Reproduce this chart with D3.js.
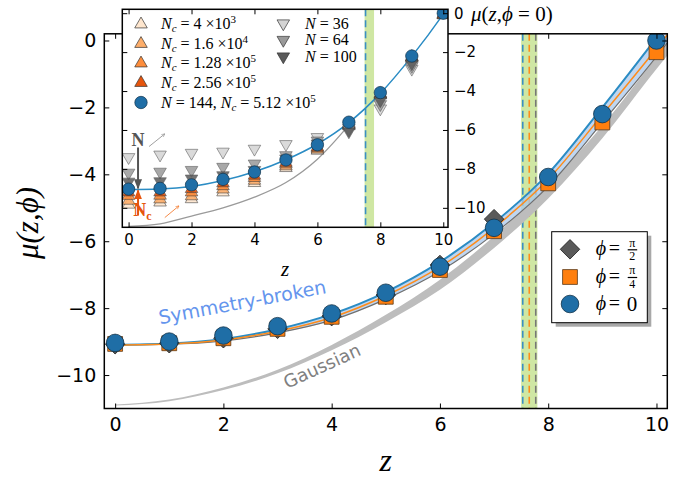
<!DOCTYPE html>
<meta charset="utf-8">
<title>mu(z, phi)</title>
<style>
body { margin: 0; background: #fff; }
.tick text { font-family: "DejaVu Sans"; fill: #000; }
.math { font-family: "Liberation Serif", "DejaVu Serif", serif; font-style: italic; }
</style>
<body>
<svg width="697" height="478"></svg>
<script src="https://d3js.org/d3.v7.min.js"></script>
<script>
// ---- data ----
var zs = [0, 1, 2, 3, 4, 5, 6, 7, 8, 9, 10];
var muPhi0 = [-9.04, -9.0, -8.82, -8.54, -8.16, -7.54, -6.76, -5.6, -4.08, -2.2, 0.0];
var muPhi4 = [-9.07, -9.05, -8.9, -8.62, -8.26, -7.66, -6.86, -5.7, -4.27, -2.45, -0.35];
var muPhi2 = [-9.08, -9.05, -8.9, -8.62, -8.24, -7.61, -6.71, -5.34];

var fitZ = [0, 1, 2, 3, 4, 5, 6, 7, 8, 9, 10, 10.2];
var fitPhi0 = [-9.1, -9.06, -8.92, -8.63, -8.18, -7.52, -6.62, -5.45, -3.98, -2.0, 0.08, 0.5];
var fitPhi4 = [-9.1, -9.07, -8.95, -8.69, -8.28, -7.63, -6.77, -5.6, -4.15, -2.22, -0.24, 0.17];
var fitPhi2 = [-9.1, -9.08, -8.98, -8.74, -8.36, -7.73, -6.9, -5.78, -4.36, -2.45, -0.48, -0.07];

var gaussUpper = [-10.88, -10.73, -10.37, -9.84, -9.1, -8.2, -7.15, -5.85, -4.3, -2.55, -0.5, -0.1];
var gaussLower = [-10.91, -10.78, -10.45, -9.95, -9.26, -8.42, -7.45, -6.2, -4.72, -2.92, -0.85, -0.45];

var critBand = [7.5, 7.8];
var critZ = [7.53, 7.65, 7.77];
var critColors = ["#3a8fc4", "#ff8c1a", "#777777"];

// inset
var insetFitZ = [0, 1, 2, 3, 4, 5, 6, 7, 8, 9, 10, 10.15];
var insetFit = [-9.06, -9.03, -8.9, -8.6, -8.15, -7.53, -6.72, -5.62, -4.12, -2.22, -0.05, 0.3];
var insetGaussZ = [0, 1, 2, 3, 4, 5, 6, 7];
var insetGauss = [-10.95, -10.82, -10.42, -10.0, -9.45, -8.7, -7.5, -5.75];

var zN = [0, 1, 2, 3, 4, 5, 6, 7, 8, 9];
var n36 = [-7.4, -7.27, -7.18, -7.12, -6.97, -6.73, -6.37, -5.9, -4.9, -2.86];
var n64 = [-8.2, -8.15, -8.06, -7.9, -7.73, -7.3, -6.55, -5.98, -4.68, -2.72];
var n100 = [-8.66, -8.64, -8.5, -8.33, -8.06, -7.47, -6.7, -6.08, -4.48, -2.58];

var nc4e3 = [-9.83, -9.72, -9.55, -9.2, -8.72, -7.95, -7.06, -5.8, -4.22, -2.3, -0.1];
var nc16e3 = [-9.63, -9.56, -9.4, -9.05, -8.6, -7.86, -7.0, -5.77, -4.19, -2.28, -0.08];
var nc128e3 = [-9.38, -9.37, -9.2, -8.88, -8.46, -7.76, -6.93, -5.73, -4.16, -2.26, -0.07];
var nc256e3 = [-9.2, -9.2, -9.03, -8.73, -8.34, -7.68, -6.88, -5.7, -4.15, -2.25, -0.06];

var ncSeries = [nc4e3, nc16e3, nc128e3, nc256e3];
var ncColors = ["#fee6ce", "#fdae6b", "#fd8d3c", "#e6550d"];
var ncMant = ["4 ×10", "1.6 ×10", "1.28 ×10", "2.56 ×10"];
var ncExp = ["3", "4", "5", "5"];
var nSeries = [n36, n64, n100];
var nColors = ["#d4d4d4", "#9a9a9a", "#5a5a5a"];
var nLabels = ["36", "64", "100"];

var xTicks = [0, 2, 4, 6, 8, 10];
var yTicks = [0, -2, -4, -6, -8, -10];

var blue = "#1f6ea6", orange = "#ff7f0e", dgray = "#5a5a5a";
var PHI = "\u03d5";

// ---- scales ----
var svg = d3.select("svg");
var x = d3.scaleLinear().domain([-0.2, 10.2]).range([104.3, 667.3]);
var y = d3.scaleLinear().domain([-11, 0.2]).range([408.5, 33.8]);
var xi = d3.scaleLinear().domain([-0.2, 10.15]).range([122.3, 448]);
var yi = d3.scaleLinear().domain([-11, 0.2]).range([227.3, 9.3]);

var defs = svg.append("defs");
defs.append("clipPath").attr("id", "clipMain").append("rect")
  .attr("x", x.range()[0]).attr("y", y.range()[1])
  .attr("width", x.range()[1] - x.range()[0]).attr("height", y.range()[0] - y.range()[1]);
defs.append("clipPath").attr("id", "clipInset").append("rect")
  .attr("x", xi.range()[0]).attr("y", yi.range()[1])
  .attr("width", xi.range()[1] - xi.range()[0]).attr("height", yi.range()[0] - yi.range()[1]);

function arrowHead(id, color, open) {
  var m = defs.append("marker").attr("id", id)
    .attr("viewBox", "0 0 10 10").attr("refX", 9).attr("refY", 5)
    .attr("markerWidth", 5).attr("markerHeight", 5).attr("orient", "auto");
  if (open) m.append("path").attr("d", "M1,1L9,5L1,9").attr("fill", "none").attr("stroke", color).attr("stroke-width", 1.3);
  else m.append("path").attr("d", "M0,1L10,5L0,9Z").attr("fill", color);
}
arrowHead("ahGray", "#555", false);
arrowHead("ahOrange", "#e6550d", false);
arrowHead("ahGrayOpen", "#888", true);
arrowHead("ahOrangeOpen", "#f26d1a", true);

function pts(xs, ys) { return ys.map(function(v, i) { return [xs[i], v]; }); }

// ---- main plot ----
var main = svg.append("g").attr("clip-path", "url(#clipMain)");

main.append("rect")
  .attr("x", x(critBand[0])).attr("width", x(critBand[1]) - x(critBand[0]))
  .attr("y", y.range()[1]).attr("height", y.range()[0] - y.range()[1])
  .attr("fill", "#cfe7a3");

critZ.forEach(function(c, i) {
  main.append("line")
    .attr("x1", x(c)).attr("x2", x(c)).attr("y1", y.range()[1]).attr("y2", y.range()[0])
    .attr("stroke", critColors[i]).attr("stroke-width", 1.6).attr("stroke-dasharray", "7,4");
});

var line = d3.line().curve(d3.curveMonotoneX)
  .x(function(d) { return x(d[0]); }).y(function(d) { return y(d[1]); });
var band = d3.area().curve(d3.curveMonotoneX)
  .x(function(d) { return x(d[0]); })
  .y0(function(d) { return y(d[1]); }).y1(function(d) { return y(d[2]); });

main.append("path")
  .datum(fitZ.map(function(z, i) { return [z, gaussLower[i], gaussUpper[i]]; }))
  .attr("d", band).attr("fill", "#bdbdbd");
main.append("path")
  .datum(fitZ.map(function(z, i) { return [z, fitPhi2[i], fitPhi0[i]]; }))
  .attr("d", band).attr("fill", "#a9c8ec").attr("opacity", 0.75);

main.append("path").datum(pts(fitZ, fitPhi2)).attr("d", line)
  .attr("fill", "none").attr("stroke", "#707070").attr("stroke-width", 1.2);
main.append("path").datum(pts(fitZ, fitPhi0)).attr("d", line)
  .attr("fill", "none").attr("stroke", "#2b8cc4").attr("stroke-width", 2);
main.append("path").datum(pts(fitZ, fitPhi4)).attr("d", line)
  .attr("fill", "none").attr("stroke", "#ff8c1a").attr("stroke-width", 1.5);

var diamond = d3.symbol(d3.symbolSquare).size(190)();
var square = d3.symbol(d3.symbolSquare).size(220)();

main.selectAll(".dia").data(pts(zs, muPhi2)).enter().append("path")
  .attr("d", diamond)
  .attr("transform", function(d) { return "translate(" + x(d[0]) + "," + y(d[1]) + ") rotate(45)"; })
  .attr("fill", dgray).attr("stroke", "#222").attr("stroke-width", 0.8);
main.selectAll(".sq").data(pts(zs, muPhi4)).enter().append("path")
  .attr("d", square)
  .attr("transform", function(d) { return "translate(" + x(d[0]) + "," + y(d[1]) + ")"; })
  .attr("fill", orange).attr("stroke", "#5a3a1a").attr("stroke-width", 0.8);
main.selectAll(".ci").data(pts(zs, muPhi0)).enter().append("circle")
  .attr("cx", function(d) { return x(d[0]); }).attr("cy", function(d) { return y(d[1]); })
  .attr("r", 8.8).attr("fill", blue).attr("stroke", "#10324a").attr("stroke-width", 0.8);

// annotations
svg.append("text")
  .attr("transform", "translate(" + x(2.35) + "," + y(-7.82) + ") rotate(-10.6)")
  .attr("text-anchor", "middle").attr("dy", "0.35em")
  .style("font-family", "DejaVu Sans").style("font-size", "19px").attr("fill", "#6495ed")
  .text("Symmetry-broken");
svg.append("text")
  .attr("transform", "translate(" + x(3.82) + "," + y(-9.73) + ") rotate(-24.5)")
  .attr("text-anchor", "middle").attr("dy", "0.35em")
  .style("font-family", "DejaVu Sans").style("font-size", "18px").attr("fill", "#808080")
  .text("Gaussian");

// main axes
function styleAxis(g, size) {
  g.select(".domain").remove();
  g.selectAll(".tick line").attr("stroke", "#000").attr("stroke-width", 1);
  g.selectAll(".tick text").style("font-size", size + "px");
}
svg.append("g").attr("transform", "translate(0," + y.range()[0] + ")")
  .call(d3.axisBottom(x).tickValues(xTicks).tickSizeInner(-5).tickSizeOuter(0).tickPadding(9))
  .call(styleAxis, 19);
svg.append("g").attr("transform", "translate(0," + y.range()[1] + ")")
  .call(d3.axisTop(x).tickValues(xTicks).tickSizeInner(-5).tickSizeOuter(0).tickFormat(""))
  .call(styleAxis, 19);
svg.append("g").attr("transform", "translate(" + x.range()[0] + ",0)")
  .call(d3.axisLeft(y).tickValues(yTicks).tickSizeInner(-5).tickSizeOuter(0).tickPadding(8))
  .call(styleAxis, 19);
svg.append("g").attr("transform", "translate(" + x.range()[1] + ",0)")
  .call(d3.axisRight(y).tickValues(yTicks).tickSizeInner(-5).tickSizeOuter(0).tickFormat(""))
  .call(styleAxis, 19);
svg.append("rect")
  .attr("x", x.range()[0]).attr("y", y.range()[1])
  .attr("width", x.range()[1] - x.range()[0]).attr("height", y.range()[0] - y.range()[1])
  .attr("fill", "none").attr("stroke", "#000").attr("stroke-width", 1.5);

svg.append("text").attr("class", "math")
  .attr("x", (x.range()[0] + x.range()[1]) / 2).attr("y", 471)
  .attr("text-anchor", "middle").style("font-size", "32px").text("z");
svg.append("text").attr("class", "math")
  .attr("transform", "translate(38,223) rotate(-90)")
  .attr("text-anchor", "middle").style("font-size", "31px").text("μ(z," + PHI + ")");

// main legend
var lg = svg.append("g").attr("transform", "translate(551.7,231.7)");
lg.append("rect").attr("x", 4).attr("y", 4).attr("width", 95.6).attr("height", 91).attr("fill", "#a8a8a8");
lg.append("rect").attr("width", 95.6).attr("height", 91).attr("fill", "#fff").attr("stroke", "#000").attr("stroke-width", 1);
var rows = [17.6, 45.3, 72.3];
lg.append("path").attr("d", diamond).attr("transform", "translate(18.3," + rows[0] + ") rotate(45)")
  .attr("fill", dgray).attr("stroke", "#222").attr("stroke-width", 0.8);
lg.append("path").attr("d", square).attr("transform", "translate(18.3," + rows[1] + ")")
  .attr("fill", orange).attr("stroke", "#5a3a1a").attr("stroke-width", 0.8);
lg.append("circle").attr("cx", 18.3).attr("cy", rows[2]).attr("r", 8.8)
  .attr("fill", blue).attr("stroke", "#10324a").attr("stroke-width", 0.8);
var fracDen = ["2", "4"];
rows.forEach(function(ry, i) {
  lg.append("text").attr("class", "math").attr("x", 44).attr("y", ry + 6)
    .style("font-size", "20px").text(PHI);
  lg.append("text").attr("x", 57).attr("y", ry + 6)
    .style("font-family", "Liberation Serif").style("font-size", "20px").text("=");
  if (i < 2) {
    lg.append("text").attr("x", 80.5).attr("y", ry - 2.5).attr("text-anchor", "middle")
      .style("font-family", "Liberation Serif").style("font-size", "12px").text("π");
    lg.append("line").attr("x1", 76).attr("x2", 85.5).attr("y1", ry + 0.5).attr("y2", ry + 0.5)
      .attr("stroke", "#000").attr("stroke-width", 1.2);
    lg.append("text").attr("x", 80.5).attr("y", ry + 11).attr("text-anchor", "middle")
      .style("font-family", "Liberation Serif").style("font-size", "12px").text(fracDen[i]);
  } else {
    lg.append("text").attr("x", 75).attr("y", ry + 7)
      .style("font-family", "Liberation Serif").style("font-size", "21px").text("0");
  }
});

// ---- inset ----
svg.append("rect")
  .attr("x", xi.range()[0]).attr("y", yi.range()[1])
  .attr("width", xi.range()[1] - xi.range()[0]).attr("height", yi.range()[0] - yi.range()[1])
  .attr("fill", "#fff");
var ins = svg.append("g").attr("clip-path", "url(#clipInset)");

ins.append("rect")
  .attr("x", xi(critBand[0])).attr("width", xi(critBand[1]) - xi(critBand[0]))
  .attr("y", yi.range()[1]).attr("height", yi.range()[0] - yi.range()[1])
  .attr("fill", "#cfe7a3");
ins.append("line")
  .attr("x1", xi(critZ[0])).attr("x2", xi(critZ[0])).attr("y1", yi.range()[1]).attr("y2", yi.range()[0])
  .attr("stroke", critColors[0]).attr("stroke-width", 1.6).attr("stroke-dasharray", "7,4");

var lineI = d3.line().curve(d3.curveMonotoneX)
  .x(function(d) { return xi(d[0]); }).y(function(d) { return yi(d[1]); });
ins.append("path").datum(pts(insetGaussZ, insetGauss)).attr("d", lineI)
  .attr("fill", "none").attr("stroke", "#9a9a9a").attr("stroke-width", 1.3);
ins.append("path").datum(pts(insetFitZ, insetFit)).attr("d", lineI)
  .attr("fill", "none").attr("stroke", "#2b8cc4").attr("stroke-width", 1.5);

var tri = d3.symbol(d3.symbolTriangle).size(68)();
ncSeries.forEach(function(s, k) {
  ins.selectAll(".nc" + k).data(pts(zs, s)).enter().append("path")
    .attr("d", tri)
    .attr("transform", function(d) { return "translate(" + xi(d[0]) + "," + yi(d[1]) + ")"; })
    .attr("fill", ncColors[k]).attr("stroke", "#333").attr("stroke-width", 0.6).attr("opacity", 0.9);
});
nSeries.forEach(function(s, k) {
  ins.selectAll(".n" + k).data(pts(zN, s)).enter().append("path")
    .attr("d", tri)
    .attr("transform", function(d) { return "translate(" + xi(d[0]) + "," + yi(d[1]) + ") rotate(180)"; })
    .attr("fill", nColors[k]).attr("stroke", "#444").attr("stroke-width", 0.6).attr("opacity", 0.85);
});
ins.selectAll(".ci").data(pts(zs, muPhi0)).enter().append("circle")
  .attr("cx", function(d) { return xi(d[0]); }).attr("cy", function(d) { return yi(d[1]); })
  .attr("r", 6.2).attr("fill", blue).attr("stroke", "#10324a").attr("stroke-width", 0.7);

// arrows
svg.append("line").attr("x1", xi(0.3)).attr("x2", xi(0.3)).attr("y1", yi(-6.9)).attr("y2", yi(-9.0))
  .attr("stroke", "#555").attr("stroke-width", 2).attr("marker-end", "url(#ahGray)");
svg.append("line").attr("x1", xi(0.3)).attr("x2", xi(0.3)).attr("y1", yi(-10.4)).attr("y2", yi(-9.1))
  .attr("stroke", "#e6550d").attr("stroke-width", 2).attr("marker-end", "url(#ahOrange)");
svg.append("line").attr("x1", xi(0.65)).attr("x2", xi(1.15)).attr("y1", yi(-6.85)).attr("y2", yi(-6.2))
  .attr("stroke", "#888").attr("stroke-width", 0.8).attr("marker-end", "url(#ahGrayOpen)");
svg.append("line").attr("x1", xi(1.15)).attr("x2", xi(1.6)).attr("y1", yi(-10.5)).attr("y2", yi(-9.9))
  .attr("stroke", "#f26d1a").attr("stroke-width", 0.8).attr("marker-end", "url(#ahOrangeOpen)");
svg.append("text").attr("x", xi(0.3)).attr("y", yi(-6.5) + 6).attr("text-anchor", "middle")
  .style("font-family", "Liberation Serif").style("font-size", "18px").style("font-weight", "bold")
  .attr("fill", "#555").text("N");
var ncT = svg.append("text").attr("x", xi(0.15)).attr("y", yi(-10.1) + 6)
  .style("font-family", "Liberation Serif").style("font-size", "18px").style("font-weight", "bold")
  .attr("fill", "#e6550d");
ncT.append("tspan").text("N");
ncT.append("tspan").attr("dy", 4).style("font-size", "12px").text("c");

// inset axes
svg.append("g").attr("transform", "translate(0," + yi.range()[0] + ")")
  .call(d3.axisBottom(xi).tickValues(xTicks).tickSizeInner(-5).tickSizeOuter(0).tickPadding(7))
  .call(styleAxis, 15);
svg.append("g").attr("transform", "translate(0," + yi.range()[1] + ")")
  .call(d3.axisTop(xi).tickValues(xTicks).tickSizeInner(-5).tickSizeOuter(0).tickFormat(""))
  .call(styleAxis, 15);
svg.append("g").attr("transform", "translate(" + xi.range()[0] + ",0)")
  .call(d3.axisLeft(yi).tickValues(yTicks).tickSizeInner(-5).tickSizeOuter(0).tickFormat(""))
  .call(styleAxis, 15);
svg.append("g").attr("transform", "translate(" + xi.range()[1] + ",0)")
  .call(d3.axisRight(yi).tickValues(yTicks).tickSizeInner(-5).tickSizeOuter(0).tickPadding(6))
  .call(styleAxis, 15);
svg.append("rect")
  .attr("x", xi.range()[0]).attr("y", yi.range()[1])
  .attr("width", xi.range()[1] - xi.range()[0]).attr("height", yi.range()[0] - yi.range()[1])
  .attr("fill", "none").attr("stroke", "#000").attr("stroke-width", 1.5);

svg.append("text").attr("class", "math")
  .attr("x", (xi.range()[0] + xi.range()[1]) / 2).attr("y", 276)
  .attr("text-anchor", "middle").style("font-size", "21px").text("z");
var yl = svg.append("text").attr("x", 471).attr("y", 21).style("font-size", "21px")
  .style("font-family", "Liberation Serif");
yl.append("tspan").style("font-style", "italic").text("μ");
yl.append("tspan").text("(");
yl.append("tspan").style("font-style", "italic").text("z");
yl.append("tspan").text(",");
yl.append("tspan").style("font-style", "italic").text(PHI);
yl.append("tspan").text(" = 0)");

// inset legend
var ilRows = [24.3, 43.8, 63.3, 82.8];
ncColors.forEach(function(c, k) {
  svg.append("path").attr("d", tri).attr("transform", "translate(141," + ilRows[k] + ")")
    .attr("fill", c).attr("stroke", "#333").attr("stroke-width", 0.7);
  var t = svg.append("text").attr("x", 161).attr("y", ilRows[k] + 5)
    .style("font-family", "Liberation Serif").style("font-size", "16px");
  t.append("tspan").style("font-style", "italic").text("N");
  t.append("tspan").attr("dy", 3).style("font-size", "11px").style("font-style", "italic").text("c");
  t.append("tspan").attr("dy", -3).text(" = " + ncMant[k]);
  t.append("tspan").attr("dy", -6).style("font-size", "11px").text(ncExp[k]);
});
svg.append("circle").attr("cx", 141).attr("cy", 102.5).attr("r", 6.2)
  .attr("fill", blue).attr("stroke", "#10324a").attr("stroke-width", 0.7);
var t144 = svg.append("text").attr("x", 161).attr("y", 107.5)
  .style("font-family", "Liberation Serif").style("font-size", "16px");
t144.append("tspan").style("font-style", "italic").text("N");
t144.append("tspan").text(" = 144, ");
t144.append("tspan").style("font-style", "italic").text("N");
t144.append("tspan").attr("dy", 3).style("font-size", "11px").style("font-style", "italic").text("c");
t144.append("tspan").attr("dy", -3).text(" = 5.12 ×10");
t144.append("tspan").attr("dy", -6).style("font-size", "11px").text("5");

var nRows = [23.5, 40, 56.5];
nColors.forEach(function(c, k) {
  svg.append("path").attr("d", tri).attr("transform", "translate(283.3," + nRows[k] + ") rotate(180)")
    .attr("fill", c).attr("stroke", "#333").attr("stroke-width", 0.7);
  var t = svg.append("text").attr("x", 305).attr("y", nRows[k] + 5)
    .style("font-family", "Liberation Serif").style("font-size", "16px");
  t.append("tspan").style("font-style", "italic").text("N");
  t.append("tspan").text(" = " + nLabels[k]);
});
</script>
</body>
